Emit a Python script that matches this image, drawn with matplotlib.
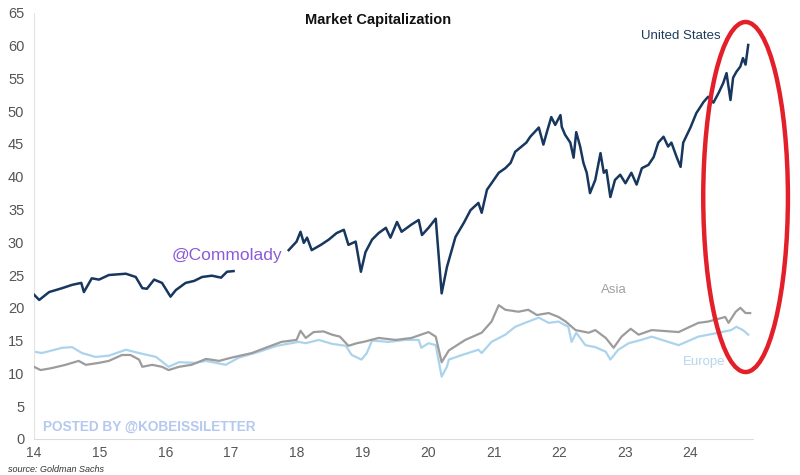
import numpy as np
import matplotlib
matplotlib.use("Agg")
import matplotlib.pyplot as plt
from matplotlib.patches import Ellipse

plt.rcParams['font.family'] = ['Liberation Sans', 'DejaVu Sans']

# United States (gap after early 2017 as in the source picture)
us_x = [14.0, 14.08, 14.23, 14.43, 14.58, 14.72, 14.76, 14.88, 14.99, 15.14, 15.4, 15.55,
        15.65, 15.72, 15.83, 15.95, 16.08, 16.16, 16.31, 16.44, 16.56, 16.71, 16.85, 16.94,
        17.04, 17.5,
        17.88, 18.0, 18.06, 18.11, 18.16, 18.23, 18.37, 18.49, 18.61, 18.72, 18.79, 18.9,
        18.98, 19.05, 19.15, 19.25, 19.36, 19.43, 19.53, 19.6, 19.75, 19.86, 19.91, 20.01,
        20.12, 20.21, 20.29, 20.42, 20.55, 20.65, 20.77, 20.82, 20.9, 21.08, 21.18, 21.26,
        21.33, 21.5, 21.56, 21.69, 21.76, 21.81, 21.88, 21.94, 22.02, 22.04, 22.09, 22.17,
        22.22, 22.26, 22.32, 22.37, 22.42, 22.47, 22.55, 22.63, 22.68, 22.72, 22.78, 22.85,
        22.93, 23.01, 23.1, 23.18, 23.26, 23.36, 23.44, 23.51, 23.59, 23.66, 23.71, 23.79,
        23.85, 23.89, 24.0, 24.09, 24.2, 24.27, 24.35, 24.43, 24.5, 24.55, 24.61, 24.65,
        24.7, 24.76, 24.8, 24.84, 24.88]
us_y = [22.0, 21.2, 22.4, 23.0, 23.5, 23.8, 22.4, 24.5, 24.3, 25.0, 25.2, 24.7,
        23.0, 22.9, 24.3, 23.8, 21.7, 22.7, 23.8, 24.1, 24.7, 24.9, 24.6, 25.5,
        25.6, np.nan,
        28.8, 30.1, 31.6, 29.9, 30.7, 28.8, 29.6, 30.4, 31.4, 31.9, 29.6, 30.1,
        25.5, 28.5, 30.4, 31.4, 32.2, 30.7, 33.1, 31.6, 32.7, 33.4, 31.1, 32.2,
        33.6, 22.2, 26.2, 30.8, 33.0, 34.9, 36.0, 34.5, 38.0, 40.6, 41.3, 42.1,
        43.8, 45.2, 46.1, 47.5, 44.9, 46.7, 49.1, 47.9, 49.4, 47.6, 46.4, 45.2,
        42.9, 46.8, 44.6, 42.1, 40.6, 37.5, 39.5, 43.6, 40.6, 41.0, 36.9, 39.5,
        40.3, 39.0, 40.6, 38.8, 41.3, 41.8, 43.0, 45.2, 46.1, 44.6, 45.2, 43.0,
        41.5, 45.2, 47.5, 49.7, 51.4, 52.2, 51.3, 52.8, 54.3, 55.8, 51.7, 55.1,
        56.0, 56.8, 58.1, 57.1, 60.1]

asia_x = [14.0, 14.1, 14.27, 14.48, 14.68, 14.79, 14.99, 15.14, 15.34, 15.47, 15.6, 15.65,
          15.8, 15.95, 16.05, 16.21, 16.4, 16.62, 16.82, 17.01, 17.32, 17.53, 17.77, 18.0,
          18.06, 18.14, 18.26, 18.41, 18.54, 18.66, 18.79, 18.92, 19.02, 19.25, 19.51, 19.75,
          20.01, 20.12, 20.21, 20.32, 20.57, 20.82, 20.97, 21.08, 21.18, 21.38, 21.53, 21.66,
          21.84, 21.99, 22.1, 22.25, 22.45, 22.55, 22.71, 22.83, 22.95, 23.09, 23.21, 23.41,
          23.82, 24.12, 24.27, 24.53, 24.58, 24.69, 24.76, 24.84, 24.91]
asia_y = [11.0, 10.5, 10.8, 11.3, 11.9, 11.3, 11.6, 11.9, 12.8, 12.8, 12.1, 11.0,
          11.3, 11.0, 10.5, 11.0, 11.3, 12.2, 11.9, 12.4, 13.1, 13.9, 14.8, 15.1,
          16.5, 15.4, 16.3, 16.4, 15.9, 15.6, 14.2, 14.6, 14.8, 15.4, 15.1, 15.4,
          16.3, 15.6, 11.7, 13.5, 15.1, 16.2, 17.9, 20.4, 19.7, 19.4, 19.7, 18.9,
          19.2, 18.6, 17.9, 16.6, 16.2, 16.6, 15.4, 13.9, 15.6, 16.8, 15.9, 16.6,
          16.3, 17.7, 17.9, 18.6, 17.7, 19.4, 20.0, 19.2, 19.2]

europe_x = [14.0, 14.12, 14.43, 14.58, 14.73, 14.94, 15.14, 15.4, 15.6, 15.86, 16.05, 16.21,
            16.46, 16.62, 16.92, 17.12, 17.4, 17.7, 18.03, 18.14, 18.34, 18.54, 18.75, 18.84,
            18.99, 19.07, 19.15, 19.4, 19.66, 19.86, 19.9, 20.01, 20.12, 20.21, 20.29, 20.32,
            20.52, 20.77, 20.82, 20.97, 21.18, 21.33, 21.53, 21.69, 21.84, 21.99, 22.14, 22.19,
            22.26, 22.4, 22.55, 22.71, 22.78, 22.9, 23.06, 23.25, 23.41, 23.82, 24.12, 24.43,
            24.62, 24.7, 24.8, 24.88]
europe_y = [13.3, 13.1, 13.9, 14.0, 13.1, 12.5, 12.7, 13.6, 13.1, 12.5, 11.0, 11.7,
            11.6, 11.9, 11.3, 12.4, 13.2, 14.2, 14.8, 14.6, 15.1, 14.5, 14.2, 12.8,
            12.1, 13.1, 15.0, 14.8, 15.1, 15.1, 13.9, 14.6, 14.3, 9.5, 11.0, 12.1,
            12.8, 13.6, 13.1, 14.8, 15.9, 17.1, 17.9, 18.5, 17.7, 17.9, 17.1, 14.8,
            16.2, 14.3, 14.0, 13.3, 12.1, 13.6, 14.6, 15.1, 15.6, 14.3, 15.6, 16.2,
            16.6, 17.1, 16.6, 15.9]

year_ticks = [14, 15, 16, 17, 18, 19, 20, 21, 22, 23, 24]
value_ticks = [0, 5, 10, 15, 20, 25, 30, 35, 40, 45, 50, 55, 60, 65]


def plot_market_cap():
    fig = plt.figure(figsize=(8, 4.75), dpi=100)
    ax = fig.add_axes([0.0425, 0.076, 0.8985, 0.897])

    ax.plot(europe_x, europe_y, color='#abd4ec', linewidth=1.6, zorder=2)
    ax.plot(asia_x, asia_y, color='#9c9c9c', linewidth=1.6, zorder=3)
    ax.plot(us_x, us_y, color='#17375e', linewidth=1.8, zorder=4)

    ax.set_xlim(14, 24.95)
    ax.set_ylim(0, 65)
    ax.set_xticks(year_ticks)
    ax.set_yticks(value_ticks)
    ax.tick_params(axis='both', length=0, colors='#555555')
    ax.tick_params(axis='y', labelsize=10.5, pad=7)
    ax.tick_params(axis='x', labelsize=10, pad=5)
    for side in ['top', 'right']:
        ax.spines[side].set_visible(False)
    ax.spines['left'].set_color('#e4e4e4')
    ax.spines['bottom'].set_color('#dcdcdc')

    # series labels
    ax.text(23.24, 61.5, "United States", color='#1f3b5c', fontsize=9.5, va='center')
    ax.text(22.63, 22.7, "Asia", color='#a0a0a0', fontsize=9.5, va='center')
    ax.text(23.88, 11.7, "Europe", color='#b5d6ec', fontsize=9.5, va='center')

    # red highlight ellipse
    ax.add_patch(Ellipse((24.84, 36.9), 1.29, 53.4, fill=False, edgecolor='#e3202a',
                         linewidth=3.2, clip_on=False, zorder=5))

    fig.text(0.4725, 0.958, "Market Capitalization", ha='center', va='center',
             fontsize=10.5, fontweight='bold', color='#111111')
    ax.text(16.1, 28.0, "@Commolady", color='#8c5ad8', fontsize=12.5, va='center')
    ax.text(14.13, 1.2, "POSTED BY @KOBEISSILETTER", color='#b4c8f0', fontsize=9.8,
            fontweight='bold')
    fig.text(0.01, 0.006, "source: Goldman Sachs", fontsize=6.5, style='italic',
             color='#333333', va='baseline')

    fig.savefig("out.png", dpi=100)


if __name__ == "__main__":
    plot_market_cap()
